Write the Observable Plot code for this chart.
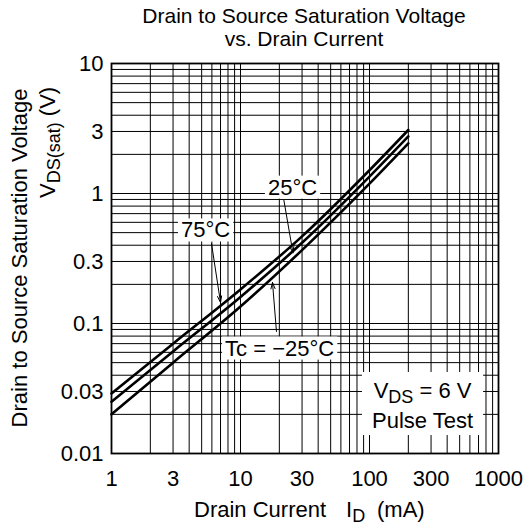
<!DOCTYPE html>
<html><head><meta charset="utf-8">
<script src="https://cdn.jsdelivr.net/npm/d3@7"></script>
<script src="https://cdn.jsdelivr.net/npm/@observablehq/plot@0.6"></script>
<style>
body{margin:0;background:#fff;}
svg{font-family:"Liberation Sans",Arial,Helvetica,sans-serif;}
</style>
</head><body><div id="chart"></div>
<script>
// Drain current (mA)
const current = [1, 3, 10, 30, 100, 200];
// VDS(sat) (V) per case temperature
const vTc75 = [0.029, 0.070, 0.183, 0.468, 1.51, 3.08];
const vTc25 = [0.025, 0.061, 0.160, 0.418, 1.35, 2.75];
const vTcm25 = [0.020, 0.050, 0.135, 0.367, 1.19, 2.43];
const series = [
  {name: "75°C", values: vTc75},
  {name: "25°C", values: vTc25},
  {name: "-25°C", values: vTcm25}
];
const xTicks = [1, 3, 10, 30, 100, 300, 1000];
const yTicks = [0.01, 0.03, 0.1, 0.3, 1, 3, 10];
const xGrid = [1,2,3,4,5,6,7,8,9,10,20,30,40,50,60,70,80,90,100,200,300,400,500,600,700,800,900,1000];
const yGrid = [0.01,0.02,0.03,0.04,0.05,0.06,0.07,0.08,0.09,0.1,0.2,0.3,0.4,0.5,0.6,0.7,0.8,0.9,1,2,3,4,5,6,7,8,9,10];

// annotations (data units)
const labels = [
  {text: "75°C", x: 5.36, y: 0.52},
  {text: "25°C", x: 25.3, y: 1.11},
  {text: "Tc = \u221225°C", x: 20.1, y: 0.0642}
];
const arrows = [
  {x1: 5.96, y1: 0.412, x2: 7.0, y2: 0.145},
  {x1: 21.7, y1: 0.885, x2: 25.5, y2: 0.35},
  {x1: 19.0, y1: 0.0868, x2: 17.7, y2: 0.207}
];
const condition = {x: 260, y1: 0.0265, y2: 0.01556};

const data = series.flatMap(s => s.values.map((v, i) => ({temp: s.name, current: current[i], v})));

const FS = 22;
const plot = Plot.plot({
  width: 529, height: 531,
  marginLeft: 111, marginRight: 31, marginTop: 63, marginBottom: 78,
  style: {fontFamily: "'Liberation Sans', Arial, sans-serif", fontSize: FS + "px", background: "white", color: "black", overflow: "visible"},
  x: {type: "log", domain: [1, 1000]},
  y: {type: "log", domain: [0.01, 10]},
  marks: [
    Plot.gridX({ticks: xGrid, stroke: "#000", strokeOpacity: 1, strokeWidth: 1}),
    Plot.gridY({ticks: yGrid, stroke: "#000", strokeOpacity: 1, strokeWidth: 1}),
    Plot.frame({stroke: "#000", strokeWidth: 1.8}),
    Plot.axisX({ticks: xTicks, tickSize: 0, tickPadding: 17, tickFormat: d => String(d), label: null, fontSize: FS}),
    Plot.axisY({ticks: yTicks, tickSize: 0, tickPadding: 8, tickFormat: d => String(d), label: null, fontSize: FS}),
    Plot.line(data, {x: "current", y: "v", z: "temp", stroke: "#000", strokeWidth: 2.6, curve: "monotone-x"}),
    Plot.arrow(arrows, {x1: "x1", y1: "y1", x2: "x2", y2: "y2", stroke: "#000", strokeWidth: 1, headLength: 10, headAngle: 36}),
    Plot.text(labels, {x: "x", y: "y", text: "text", fontSize: FS, fill: "#000", className: "lbl"})
  ]
});
document.getElementById("chart").appendChild(plot);

const svg = d3.select(plot);
const sx = plot.scale("x"), sy = plot.scale("y");

// white boxes behind labels
svg.selectAll("g.lbl text").each(function() {
  const b = this.getBBox();
  d3.select(this.parentNode).insert("rect", "text")
    .attr("transform", this.getAttribute("transform"))
    .attr("x", b.x - 3).attr("y", b.y + 1).attr("width", b.width + 6).attr("height", b.height - 2)
    .attr("fill", "white").attr("stroke", "none");
});

// condition box
const cx = sx.apply(condition.x);
const cg = svg.append("g").attr("text-anchor", "middle").attr("fill", "#000");
const c1 = cg.append("text").attr("x", cx).attr("y", sy.apply(condition.y1)).attr("font-size", FS);
c1.append("tspan").text("V");
c1.append("tspan").attr("font-size", 18).attr("dy", 5).text("DS");
c1.append("tspan").attr("dy", -5).text(" = 6 V");
const c2 = cg.append("text").attr("x", cx).attr("y", sy.apply(condition.y2)).attr("font-size", FS).text("Pulse Test");
const bb1 = c1.node().getBBox(), bb2 = c2.node().getBBox();
const bx0 = Math.min(bb1.x, bb2.x) - 10, bx1 = Math.max(bb1.x + bb1.width, bb2.x + bb2.width) + 10;
cg.insert("rect", "text").attr("x", bx0).attr("y", bb1.y - 6).attr("width", bx1 - bx0).attr("height", bb2.y + bb2.height + 2 - (bb1.y - 6)).attr("fill", "white");

// title
const tg = svg.append("g").attr("text-anchor", "middle").attr("fill", "#000").attr("font-size", 21);
tg.append("text").attr("x", 304).attr("y", 23).text("Drain to Source Saturation Voltage");
tg.append("text").attr("x", 304).attr("y", 46).text("vs. Drain Current");

// y label
const lg = svg.append("g").attr("fill", "#000").attr("font-size", FS);
lg.append("text").attr("transform", "translate(27,258) rotate(-90)").attr("text-anchor", "middle").text("Drain to Source Saturation Voltage");
const yl2 = lg.append("text").attr("transform", "translate(55,198) rotate(-90)").attr("text-anchor", "start");
yl2.append("tspan").text("V");
yl2.append("tspan").attr("font-size", 18).attr("dy", 5).text("DS(sat)");
yl2.append("tspan").attr("dy", -5).text(" (V)");

// x label
const xl = lg.append("text").attr("y", 517).attr("text-anchor", "start");
xl.append("tspan").attr("x", 194).text("Drain Current");
xl.append("tspan").attr("x", 346).text("I");
xl.append("tspan").attr("font-size", 18).attr("dy", 5).text("D");
xl.append("tspan").attr("x", 377).attr("dy", -5).text("(mA)");
</script>
</body></html>
